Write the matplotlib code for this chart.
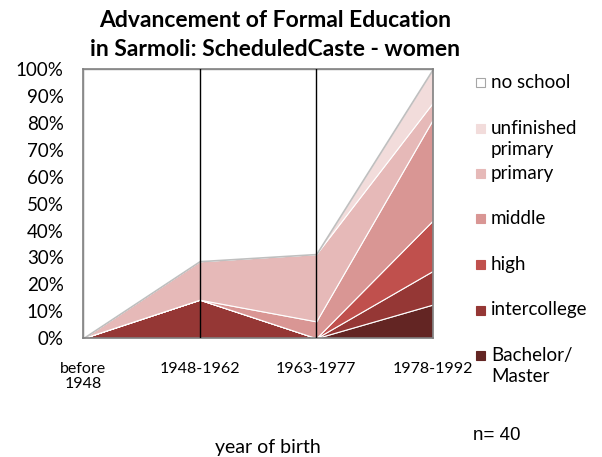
import matplotlib.pyplot as plt
from matplotlib.patches import Rectangle

plt.rcParams['font.family'] = ['Lato', 'DejaVu Sans']

periods = ['before\n1948', '1948-1962', '1963-1977', '1978-1992']
levels = ['Bachelor/\nMaster', 'intercollege', 'high', 'middle', 'primary',
          'unfinished\nprimary', 'no school']
# share of women per birth cohort, percent (bottom to top of the stack)
bachelor = [0, 0, 0, 12.5]
intercollege = [0, 14.3, 0, 12.5]
high = [0, 0, 0, 18.75]
middle = [0, 0, 6.25, 37.5]
primary = [0, 14.3, 25.0, 6.25]
unfinished = [0, 0, 0, 12.5]
no_school = [100, 71.4, 68.75, 0]

colors = ['#632523', '#953735', '#c0504d', '#d99694', '#e6b9b8', '#f2dcdb', '#ffffff']

fig = plt.figure(figsize=(6.02, 4.57), dpi=100)
ax = fig.add_axes([0.138, 0.260, 0.581, 0.589])

x = list(range(len(periods)))
series = [bachelor, intercollege, high, middle, primary, unfinished, no_school]
polys = ax.stackplot(x, *series, colors=colors, edgecolor='white', linewidth=0.8)
polys[-1].set_edgecolor('#bfbfbf')
polys[-1].set_linewidth(1.2)

for xv in [1, 2]:
    ax.axvline(xv, color='black', lw=1, zorder=5)

ax.set_xlim(0, 3)
ax.set_ylim(0, 100)
ax.set_yticks(range(0, 101, 10))
ax.set_yticklabels([f'{v}%' for v in range(0, 101, 10)], fontsize=13.5)
ax.set_xticks(x)
ax.set_xticklabels(periods, fontsize=11.5, linespacing=1.1)
ax.tick_params(axis='y', length=0, pad=14)
ax.tick_params(axis='x', length=0, pad=17)
for s in ax.spines.values():
    s.set_color('#808080')
    s.set_linewidth(1.2)

fig.text(275 / 602, 1 - 10 / 457, 'Advancement of Formal Education\nin Sarmoli: ScheduledCaste - women',
         ha='center', va='top', fontsize=16.5, fontweight='bold', linespacing=1.5)
fig.text(268 / 602, 1 - 447 / 457, 'year of birth', ha='center', va='center', fontsize=14)
fig.text(473 / 602, 1 - 435 / 457, 'n= 40', ha='left', va='center', fontsize=13.5,
         family='Liberation Sans')

# legend, top entry first
for i, (lab, col) in enumerate(zip(levels[::-1], colors[::-1])):
    yc = 82 + i * 45.5
    fig.patches.append(Rectangle((476 / 602, 1 - (yc + 5) / 457), 9 / 602, 9 / 457,
                                 transform=fig.transFigure, facecolor=col,
                                 edgecolor='#a6a6a6' if col == '#ffffff' else col, lw=0.8))
    fig.text(491 / 602, 1 - (yc - 8) / 457, lab, ha='left', va='top', fontsize=13.5,
             linespacing=1.3)

fig.savefig('out.png', dpi=100)
